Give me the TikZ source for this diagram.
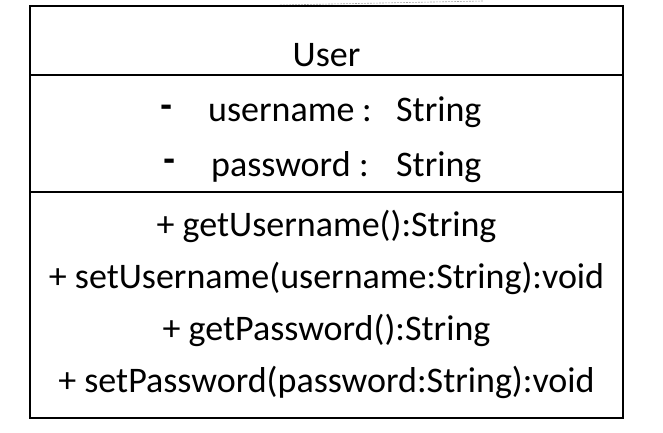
\documentclass[tikz,border=0pt]{standalone}
\usepackage{fontspec}
\setmainfont{Carlito}
\begin{document}
\begin{tikzpicture}[x=1pt,y=-1pt,
  box/.style={draw=black,line width=2.2pt},
  sep/.style={draw=black,line width=2.2pt},
  txt/.style={font=\fontsize{36}{40}\selectfont,inner sep=0pt,anchor=base},
  part/.style={font=\fontsize{36}{40}\selectfont,inner sep=0pt,anchor=base west},
  dashmark/.style={font=\fontsize{36}{40}\selectfont,inner sep=0pt,anchor=base west},
  faint/.style={draw=black!35,line width=0.6pt,dash pattern=on 2pt off 1pt}]
\useasboundingbox (0,0) rectangle (663,432);
% faint remnant at the top edge
\coordinate (f1) at (280,5);
\coordinate (f2) at (483,1);
\draw[faint] (f1) -- (f2);
% class box
\coordinate (tl) at (30,6);
\coordinate (br) at (623,418);
\draw[box] (tl) rectangle (br);
\coordinate (d1l) at (30,75);  \coordinate (d1r) at (623,75);
\coordinate (d2l) at (30,192); \coordinate (d2r) at (623,192);
\draw[sep] (d1l) -- (d1r);
\draw[sep] (d2l) -- (d2r);
% name
\node[txt] (name) at (326.5,66) {User};
% attributes
\node[dashmark] (ud) at (160,123) {\scalebox{1.1}[1.6]{-}};
\node[part] (un) at (208,121) {username};
\node[part] (uc) at (362,121) {:};
\node[part] (ut) at (396,121) {String};
\node[dashmark] (pd) at (163,177) {\scalebox{1.1}[1.6]{-}};
\node[part] (pn) at (211,176) {password};
\node[part] (pc) at (359,176) {:};
\node[part] (pt) at (396,176) {String};
% methods
\node[txt] (m1) at (326.5,236) {+ getUsername():String};
\node[txt] (m2) at (326.5,288) {+ setUsername(username:String):void};
\node[txt] (m3) at (326.5,340) {+ getPassword():String};
\node[txt] (m4) at (326.5,392) {+ setPassword(password:String):void};
\end{tikzpicture}
\end{document}
